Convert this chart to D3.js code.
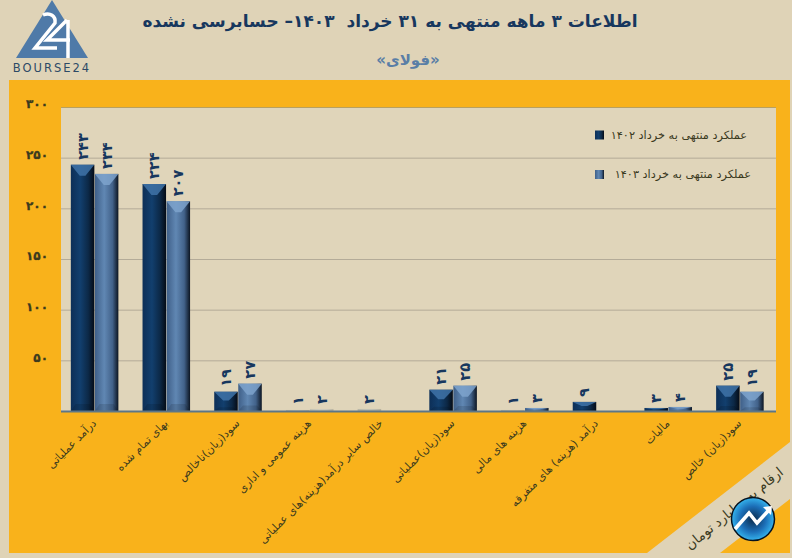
<!DOCTYPE html>
<html lang="fa">
<head>
<meta charset="utf-8">
<script src="https://cdn.jsdelivr.net/npm/d3@7"></script>
<style>
html, body { margin: 0; padding: 0; background: #dfd3b7; }
svg { display: block; font-family: "DejaVu Sans", sans-serif; }
</style>
</head>
<body>
<svg id="chart" width="792" height="558"></svg>
<script>
var categories = [
  "درآمد عملیاتی",
  "بهای تمام شده",
  "سود(زیان)ناخالص",
  "هزینه عمومی و اداری",
  "خالص سایر درآمد(هزینه)های عملیاتی",
  "سود(زیان)عملیاتی",
  "هزینه های مالی",
  "درآمد (هزینه) های متفرقه",
  "مالیات",
  "سود(زیان) خالص"
];
var values1402 = [243, 224, 19, 1, 2, 21, 1, 9, 3, 25];
var values1403 = [234, 207, 27, 2, null, 25, 3, null, 4, 19];
var seriesNames = ["عملکرد منتهی به خرداد ۱۴۰۲", "عملکرد منتهی به خرداد ۱۴۰۳"];
var yTicks = [0, 50, 100, 150, 200, 250, 300];

var titleText = "اطلاعات ۳ ماهه منتهی به ۳۱ خرداد  ۱۴۰۳– حسابرسی نشده";
var subtitleText = "«فولای»";
var noteText = "ارقام به میلیارد تومان";

var cream = "#dfd3b7", orange = "#f9b21b", navy = "#17375e", olive = "#3b3a1e";

function fa(n) {
  return String(n).replace(/\d/g, function (d) { return "۰۱۲۳۴۵۶۷۸۹"[d]; });
}

var svg = d3.select("#chart");
var defs = svg.append("defs");

function barGradient(id, stops) {
  var g = defs.append("linearGradient").attr("id", id);
  stops.forEach(function (s) {
    g.append("stop").attr("offset", s[0]).attr("stop-color", s[1]);
  });
}
barGradient("bar0", [[0, "#0d2f57"], [0.4, "#123f6e"], [0.75, "#0c2846"], [1, "#050b15"]]);
barGradient("bar1", [[0, "#3f5f88"], [0.4, "#6087b3"], [0.75, "#42628a"], [1, "#0c1522"]]);

// orange panel and plot area
svg.append("rect").attr("x", 9).attr("y", 80).attr("width", 781).attr("height", 473).attr("fill", orange);

var x = d3.scaleBand().domain(categories).range([59, 776]).paddingInner(0.33).paddingOuter(0.165);
var inner = d3.scaleBand().domain([0, 1]).range([0, x.bandwidth()]);
var y = d3.scaleLinear().domain([0, 300]).range([411, 107]);

svg.append("rect").attr("x", 61).attr("y", y(300)).attr("width", 715).attr("height", y(0) - y(300)).attr("fill", "#e0d5ba");

// grid
svg.append("g").selectAll("line").data(yTicks.filter(function (t) { return t > 0; })).join("line")
  .attr("x1", 61).attr("x2", 776)
  .attr("y1", function (d) { return y(d) + 0.5; })
  .attr("y2", function (d) { return y(d) + 0.5; })
  .attr("stroke", function (d) { return d === 300 ? "#b8a060" : "#b4ab98"; });

// y axis, labels sit a little above their grid line
var yAxis = d3.axisLeft(y).tickValues(yTicks.filter(function (t) { return t > 0; })).tickSize(0).tickPadding(0)
  .tickFormat(fa);
var yg = svg.append("g").attr("transform", "translate(48,-3)").call(yAxis);
yg.select(".domain").remove();
yg.selectAll("text").attr("font-size", 12).attr("font-weight", "bold").attr("fill", olive)
  .attr("stroke", olive).attr("stroke-width", 0.3).attr("font-family", "'DejaVu Sans', sans-serif");

// bars
[values1402, values1403].forEach(function (vals, s) {
  var rows = vals.map(function (v, i) { return { v: v, c: categories[i] }; })
    .filter(function (d) { return d.v !== null; });
  var g = svg.append("g");
  var bar = g.selectAll("g").data(rows).join("g")
    .attr("transform", function (d) { return "translate(" + (x(d.c) + inner(s)) + "," + y(d.v) + ")"; });
  var w = inner.bandwidth() - 0.5;
  var h = function (d) { return y(0) - y(d.v); };
  // very short bars wash out in the original
  var shapes = bar.append("g").attr("opacity", function (d) { return d.v < 3 ? 0.18 : 1; });
  shapes.append("rect").attr("width", w).attr("height", h).attr("fill", "url(#bar" + s + ")");
  // top bevel
  shapes.append("path")
    .attr("d", function (d) {
      var b = Math.min(11, h(d) * 0.45);
      return "M0,0H" + w + "L" + (w * 0.62) + "," + b + "H" + (w * 0.38) + "Z";
    })
    .attr("fill", s ? "#7ea3cc" : "#3f73a8").attr("opacity", 0.85);
  // bottom bevel
  shapes.append("path")
    .attr("d", function (d) {
      var b = Math.min(7, h(d) * 0.2), t = h(d);
      return "M0," + t + "H" + w + "L" + (w * 0.8) + "," + (t - b) + "H" + (w * 0.2) + "Z";
    })
    .attr("fill", "#000").attr("opacity", 0.12);
  // value labels
  bar.append("text")
    .attr("transform", function () { return "translate(" + (w / 2 + 5) + ",-5) rotate(-90)"; })
    .attr("font-size", 14.5).attr("font-weight", "bold").attr("fill", navy)
    .text(function (d) { return fa(d.v); });
});

// baseline
svg.append("line").attr("x1", 61).attr("x2", 776).attr("y1", y(0) + 0.5).attr("y2", y(0) + 0.5)
  .attr("stroke", "#5c7688").attr("stroke-width", 2);

// category labels
svg.append("g").selectAll("text").data(categories).join("text")
  .attr("transform", function (d) { return "translate(" + (x(d) + x.bandwidth() / 2 + 2) + ",424) rotate(-45)"; })
  .attr("text-anchor", "end")
  .attr("font-size", 11).attr("fill", olive)
  .text(function (d) { return d; });

// legend
var legend = svg.append("g").selectAll("g").data(seriesNames).join("g")
  .attr("transform", function (d, i) { return "translate(0," + (135 + i * 39.5) + ")"; });
legend.append("rect").attr("x", 595).attr("y", -4.5).attr("width", 9).attr("height", 9)
  .attr("fill", function (d, i) { return "url(#bar" + i + ")"; });
legend.append("text").attr("x", function (d, i) { return 747 + i * 4; }).attr("y", 3.5)
  .attr("text-anchor", "end").attr("font-size", 11.3).attr("fill", olive)
  .text(function (d) { return d; });

// titles
svg.append("text").attr("x", 390).attr("y", 27).attr("text-anchor", "middle")
  .attr("direction", "rtl").attr("xml:space", "preserve")
  .attr("font-size", 17).attr("font-weight", "bold").attr("fill", navy).text(titleText);
svg.append("text").attr("x", 408).attr("y", 65).attr("text-anchor", "middle")
  .attr("direction", "rtl")
  .attr("font-size", 15).attr("font-weight", "bold").attr("fill", "#5a7ea6").text(subtitleText);

// logo
var logo = svg.append("g");
logo.append("path").attr("d", "M52,0L88,58H16Z").attr("fill", "#4f7aa8");
logo.append("path").attr("d", "M43,15C50,12 56,16 55,23L35,48H57").attr("fill", "none").attr("stroke", "#fff").attr("stroke-width", 3.5);
logo.append("path").attr("d", "M67,20L47,40H70M68,20V58").attr("fill", "none").attr("stroke", "#fff").attr("stroke-width", 3.5);
logo.append("text").attr("x", 52).attr("y", 72).attr("text-anchor", "middle")
  .attr("font-size", 11.5).attr("letter-spacing", 2).attr("fill", "#2d4a66").text("BOURSE24");

// corner ribbon
svg.append("path").attr("d", "M647,553L790,442V499L720,553Z").attr("fill", cream);
svg.append("text").attr("transform", "translate(737,512) rotate(-39)").attr("text-anchor", "middle")
  .attr("font-size", 13.5).attr("fill", olive).text(noteText);

// badge
var rg = defs.append("radialGradient").attr("id", "badge");
rg.append("stop").attr("offset", 0).attr("stop-color", "#0b2a4a");
rg.append("stop").attr("offset", 0.6).attr("stop-color", "#1c6fb8");
rg.append("stop").attr("offset", 1).attr("stop-color", "#35b4ee");
svg.append("circle").attr("cx", 753).attr("cy", 519).attr("r", 21.5).attr("fill", "url(#badge)").attr("stroke", "#06121f").attr("stroke-width", 1.5);
svg.append("path").attr("d", "M735,529L749,513L757,523L768,511").attr("fill", "none").attr("stroke", "#fff").attr("stroke-width", 3.5);
svg.append("path").attr("d", "M763,507L772,506L771,515Z").attr("fill", "#fff");
</script>
</body>
</html>
